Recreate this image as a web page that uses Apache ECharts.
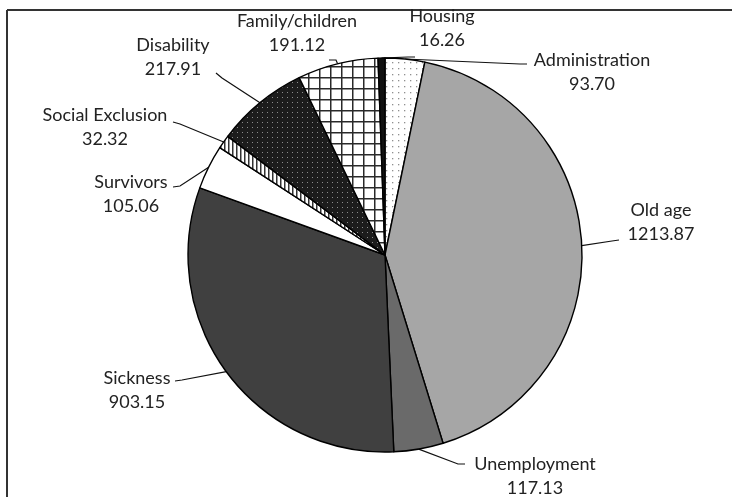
<!DOCTYPE html>
<html>
<head>
<meta charset="utf-8">
<script src="https://cdn.jsdelivr.net/npm/echarts@6/dist/echarts.min.js"></script>
<style>
  html, body { margin: 0; padding: 0; background: #fff; }
  #chart { width: 732px; height: 497px; }
</style>
</head>
<body>
<div id="chart"></div>
<script>
// Spending categories, clockwise from 12 o'clock
const categories = ['Administration', 'Old age', 'Unemployment', 'Sickness', 'Survivors',
                    'Social Exclusion', 'Disability', 'Family/children', 'Housing'];
const spending = [93.70, 1213.87, 117.13, 903.15, 105.06, 32.32, 217.91, 191.12, 16.26];

// Label placement: text centre, elbow of the leader line, leader end next to the text
const labelCentre = [[592, 72], [661, 222], [535, 476], [137, 390], [131, 194], [105, 127], [173, 57], [297, 33], [442, 28]];
const leaderElbow = [[520, 64], [612, 241], [458, 464], [182, 380], [180, 186], [180, 124], [222, 78], [336, 60], [408, 57]];
const leaderEnd   = [[527, 64], [619, 240], [465, 464], [175, 381], [173, 187], [173, 122], [216, 73], [329, 60], [415, 57]];

function makePattern(size, draw) {
  const c = document.createElement('canvas');
  c.width = size; c.height = size;
  const ctx = c.getContext('2d');
  draw(ctx, size);
  return { image: c, repeat: 'repeat' };
}

const dotsLight = makePattern(6, (ctx) => {
  ctx.fillStyle = '#fff'; ctx.fillRect(0, 0, 6, 6);
  ctx.fillStyle = '#8f8f8f'; ctx.fillRect(2, 2, 1.3, 1.3);
});
const verticalLines = makePattern(4, (ctx) => {
  ctx.fillStyle = '#fff'; ctx.fillRect(0, 0, 4, 4);
  ctx.fillStyle = '#333'; ctx.fillRect(0, 0, 1.5, 4);
});
const darkDots = makePattern(5, (ctx) => {
  ctx.fillStyle = '#1c1c1c'; ctx.fillRect(0, 0, 5, 5);
  ctx.fillStyle = '#8c8c8c'; ctx.fillRect(2, 2, 1, 1);
});
const grid = makePattern(11, (ctx) => {
  ctx.fillStyle = '#fff'; ctx.fillRect(0, 0, 11, 11);
  ctx.fillStyle = '#2a2a2a';
  ctx.fillRect(0, 0, 11, 1.5);
  ctx.fillRect(0, 0, 1.5, 11);
});

const fills = [dotsLight, '#a6a6a6', '#6a6a6a', '#404040', '#ffffff', verticalLines, darkDots, grid, '#111111'];

const chart = echarts.init(document.getElementById('chart'), null, { renderer: 'canvas' });
chart.setOption({
  animation: false,
  backgroundColor: '#fff',
  graphic: [
    { type: 'line', shape: { x1: 7, y1: 10, x2: 740, y2: 10 }, style: { stroke: '#333', lineWidth: 2 } },
    { type: 'line', shape: { x1: 7, y1: 10, x2: 7, y2: 505 }, style: { stroke: '#333', lineWidth: 2 } }
  ],
  series: [{
    type: 'pie',
    center: [385, 255],
    radius: 197,
    startAngle: 90,
    clockwise: true,
    avoidLabelOverlap: false,
    data: categories.map((name, i) => ({
      name: name,
      value: spending[i],
      itemStyle: { color: fills[i] }
    })),
    itemStyle: { borderColor: '#000', borderWidth: 1.4 },
    label: {
      show: true,
      position: 'outside',
      fontFamily: 'Lato',
      fontSize: 18,
      lineHeight: 24,
      color: '#222',
      align: 'center',
      formatter: (p) => p.name + '\n' + p.value.toFixed(2)
    },
    labelLine: {
      show: true,
      length: 10,
      length2: 10,
      lineStyle: { color: '#111', width: 1.2 }
    },
    labelLayout: (params) => {
      const i = params.dataIndex;
      const start = params.labelLinePoints ? params.labelLinePoints[0] : leaderElbow[i];
      return {
        x: labelCentre[i][0],
        y: labelCentre[i][1],
        align: 'center',
        verticalAlign: 'middle',
        labelLinePoints: [start, leaderElbow[i], leaderEnd[i]]
      };
    },
    emphasis: { disabled: true }
  }]
});
</script>
</body>
</html>
